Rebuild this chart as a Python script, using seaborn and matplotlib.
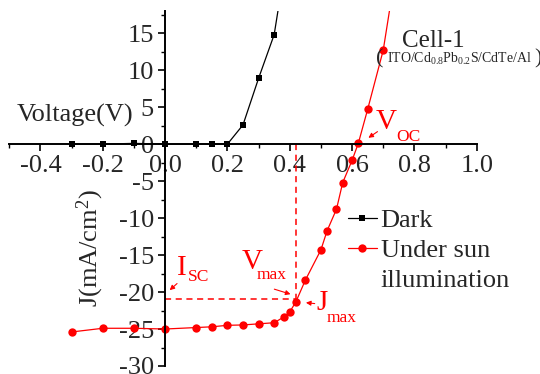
import matplotlib
matplotlib.use("Agg")
import matplotlib.pyplot as plt
import seaborn as sns
import pandas as pd
from matplotlib.ticker import MultipleLocator

# ---- data ----
dark_v = [-0.3, -0.2, -0.1, 0.0, 0.1, 0.15, 0.2, 0.25, 0.3, 0.35, 0.4]
dark_j = [0.0, 0.0, 0.1, 0.0, 0.0, 0.0, 0.0, 2.6, 8.9, 14.8, 28.0]
sun_v = [-0.3, -0.2, -0.1, 0.0, 0.1, 0.15, 0.2, 0.25, 0.3, 0.35, 0.38, 0.4,
         0.42, 0.45, 0.5, 0.52, 0.55, 0.57, 0.6, 0.62, 0.65, 0.7, 0.75]
sun_j = [-25.4, -24.9, -24.9, -25.0, -24.8, -24.7, -24.5, -24.45, -24.3, -24.15,
         -23.4, -22.7, -21.3, -18.4, -14.3, -11.7, -8.8, -5.2, -2.2, 0.1, 4.7,
         12.7, 26.0]
series_names = ["Dark", "Under sun illumination"]
x_ticks = [-0.4, -0.2, 0.0, 0.2, 0.4, 0.6, 0.8, 1.0]
y_ticks = [-30, -25, -20, -15, -10, -5, 0, 5, 10, 15]
v_max, j_max_line = 0.42, -20.9

df_dark = pd.DataFrame({"V": dark_v, "J": dark_j})
df_sun = pd.DataFrame({"V": sun_v, "J": sun_j})

sns.set_style("ticks")
plt.rcParams["font.family"] = ["Liberation Serif", "DejaVu Serif"]
plt.rcParams["mathtext.fontset"] = "custom"
plt.rcParams["mathtext.rm"] = "Liberation Serif"
plt.rcParams["mathtext.it"] = "Liberation Serif:italic"
plt.rcParams["axes.unicode_minus"] = False

fig = plt.figure(figsize=(5.4, 3.74), dpi=100)
ax = fig.add_axes([0.0172, 0.0214, 0.8656, 0.9492])

red = "#ff0000"
sns.lineplot(data=df_dark, x="V", y="J", color="black", marker="s",
             markersize=5, markeredgewidth=0, linewidth=0.9, sort=False,
             label=series_names[0], ax=ax)
sns.lineplot(data=df_sun, x="V", y="J", color=red, marker="o",
             markersize=6, markeredgewidth=0, linewidth=0.9, sort=False,
             label=series_names[1], ax=ax)

ax.set_xlim(-0.5, 1.0)
ax.set_ylim(-30, 18)
ax.spines["left"].set_position(("data", 0))
ax.spines["bottom"].set_position(("data", 0))
ax.spines["top"].set_visible(False)
ax.spines["right"].set_visible(False)
for s in ("left", "bottom"):
    ax.spines[s].set_linewidth(1.4)
    ax.spines[s].set_color("black")
ax.set_xticks(x_ticks)
ax.set_xticklabels([f"{t:.1f}" for t in x_ticks])
ax.set_yticks(y_ticks)
ax.set_yticklabels([str(t) for t in y_ticks])
ax.xaxis.set_minor_locator(MultipleLocator(0.1))
ax.yaxis.set_minor_locator(MultipleLocator(2.5))
ax.tick_params(which="major", direction="out", length=5, width=1.2,
               labelsize=19, pad=3, color="black")
ax.tick_params(which="minor", direction="out", length=3, width=1.0, color="black")
ax.set_xlabel("")
ax.set_ylabel("")

# dashed guide lines
ax.plot([v_max, v_max], [0, j_max_line], ls=(0, (4, 3)), color=red, lw=1.1)
ax.plot([0, v_max], [j_max_line, j_max_line], ls=(0, (4, 3)), color=red, lw=1.1)

arrow = dict(arrowstyle="-|>", color=red, lw=0.8, mutation_scale=7)
# I_SC
ax.text(0.054, -16.8, "I", color=red, fontsize=21, ha="center", va="center")
ax.text(0.073, -17.9, "SC", color=red, fontsize=12.5, ha="left", va="center")
ax.annotate("", xy=(0.008, -20.0), xytext=(0.045, -18.6), arrowprops=arrow)
# V_max
ax.text(0.28, -15.9, "V", color=red, fontsize=21, ha="center", va="center")
ax.text(0.341, -17.7, "max", color=red, fontsize=12.5, ha="center", va="center")
ax.annotate("", xy=(0.411, -20.4), xytext=(0.342, -19.5), arrowprops=arrow)
# J_max
ax.text(0.503, -21.5, "J", color=red, fontsize=21, ha="center", va="center")
ax.text(0.565, -23.5, "max", color=red, fontsize=12.5, ha="center", va="center")
ax.annotate("", xy=(0.443, -21.4), xytext=(0.489, -21.6), arrowprops=arrow)
# V_OC
ax.text(0.709, 3.0, "V", color=red, fontsize=21, ha="center", va="center")
ax.text(0.78, 1.0, "OC", color=red, fontsize=12.5, ha="center", va="center")
ax.annotate("", xy=(0.645, 0.64), xytext=(0.689, 1.9), arrowprops=arrow)

# titles / labels
ax.text(0.860, 13.9, "Cell-1", fontsize=18, ha="center", va="center")
ax.text(0.677, 11.5, "(", fontsize=16, ha="left", va="center")
ax.text(0.944, 10.95, r"$\mathrm{ITO/Cd_{0.8}Pb_{0.2}S/CdTe/Al}$",
        fontsize=10, ha="center", va="baseline")
ax.text(1.208, 11.5, ")", fontsize=16, ha="right", va="center")
ax.text(-0.288, 3.9, "Voltage(V)", fontsize=19, ha="center", va="center")
ax.text(-0.24, -14, r"J(mA/cm$^2$)", fontsize=19, ha="center", va="center",
        rotation=90)

leg = ax.legend(loc="upper left", bbox_to_anchor=(0.586, -8.7),
                bbox_transform=ax.transData, frameon=False, fontsize=19,
                borderpad=0, borderaxespad=0, handlelength=1.1,
                handletextpad=0.15, labelspacing=0.25)
leg.get_texts()[1].set_text("Under sun")
ax.text(0.69, -18.5, "illumination", fontsize=19, ha="left", va="center")

fig.savefig("out.png", dpi=100)
